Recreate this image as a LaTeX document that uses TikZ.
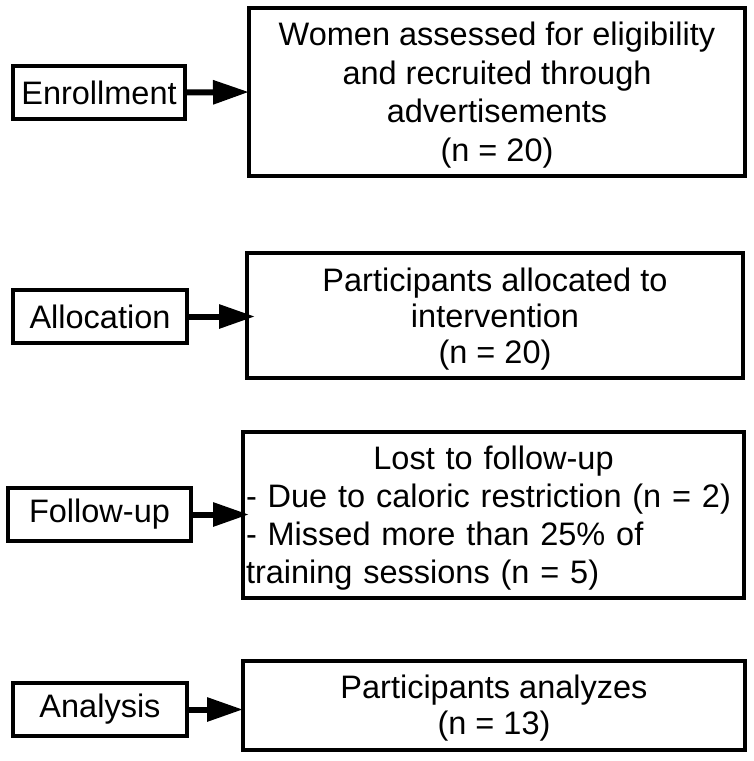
\documentclass[tikz,border=0pt]{standalone}
\usepackage{fontspec}
\setmainfont{Liberation Sans}
\usetikzlibrary{arrows.meta}
\newcommand{\topstrut}{\rule{0pt}{30pt}}
\newcommand{\botstrut}{\rule[-6pt]{0pt}{6pt}}
\tikzset{
  box/.style={draw=black, line width=3.3pt, inner sep=0pt, outer sep=0pt, align=center,
    font=\fontsize{32.5}{39}\selectfont},
  lbox/.style={box, minimum height=53pt},
  arr/.style={line width=6pt, -{Triangle[length=36pt,width=23pt]}}
}
\begin{document}
\begin{tikzpicture}[x=1pt,y=-1pt]
\useasboundingbox (0,0) rectangle (754,761);
% left boxes
\node[lbox, minimum width=172pt] (l1) at (99,92.5) {Enrollment};
\node[lbox, minimum width=174pt] (l2) at (100,316.5) {Allocation};
\node[lbox, minimum width=183pt] (l3) at (99.5,514.5) {Follow-up};
\node[lbox, minimum width=174pt] (l4) at (100,709.5) {Analysis};
% right boxes
\node[box, minimum width=496pt, minimum height=168pt, font=\fontsize{32.5}{38.5}\selectfont] (r1) at (497,92)
  {\topstrut Women assessed for eligibility\\and recruited through\\advertisements\\(n = 20)\botstrut};
\node[box, minimum width=496pt, minimum height=125pt, font=\fontsize{32.5}{36}\selectfont] (r2) at (495,315.5)
  {\topstrut Participants allocated to\\intervention\\(n = 20)\botstrut};
\node[box, minimum width=501pt, minimum height=166pt, text width=495pt, align=left, font=\fontsize{32.5}{38}\selectfont] (r3) at (493.5,515)
  {\makebox[495pt]{\topstrut Lost to follow-up}\\- Due to caloric restriction (n = 2)\\- Missed more than 25\% of\\training sessions (n = 5)\botstrut};
\node[box, minimum width=502pt, minimum height=89pt, font=\fontsize{32.5}{36}\selectfont] (r4) at (494,705.5)
  {\rule{0pt}{28pt}Participants analyzes\\(n = 13)\botstrut};
% arrows
\draw[arr] (l1.east) -- (r1.west);
\draw[arr] (l2.east) -- ([xshift=8pt]r2.west |- l2.east);
\draw[arr] (l3.east) -- ([xshift=6pt]r3.west |- l3.east);
\draw[arr] (l4.east) -- (r4.west |- l4.east);
\end{tikzpicture}
\end{document}
